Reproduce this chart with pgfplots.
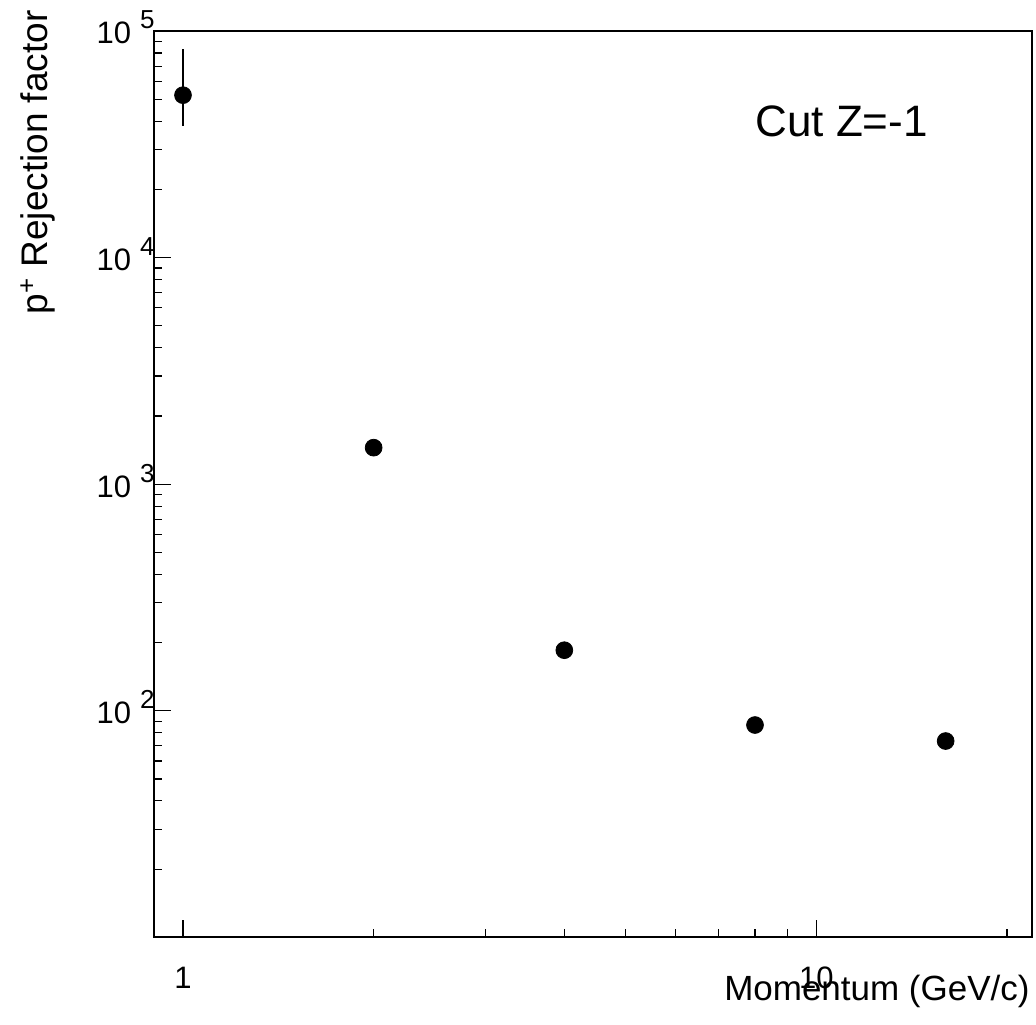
\documentclass[border=0pt]{standalone}
\usepackage{fontspec}
\setmainfont{Liberation Sans}
\usepackage{pgfplots}
\pgfplotsset{compat=1.18}

% power-of-ten label with a detached, raised exponent
\newcommand{\dec}[1]{\fontsize{15.5}{15.5}\selectfont 10\hspace{4.5pt}\raisebox{7.5pt}{\fontsize{13}{13}\selectfont #1}}

\begin{document}
\begin{tikzpicture}
\begin{axis}[
  xmode=log, ymode=log,
  scale only axis, width=439pt, height=453.15pt,
  xmin=0.9, xmax=21.9, ymin=10, ymax=100000,
  axis line style={line width=1pt},
  tick style={line width=0.6pt, black},
  tick align=inside,
  xtick pos=bottom, ytick pos=left,
  major tick length=8.5pt, minor tick length=4.25pt,
  xtick={1,10}, xticklabels={1,10},
  minor xtick={2,3,4,5,6,7,8,9,20},
  ytick={100,1000,10000,100000},
  yticklabels={\dec{2},\dec{3},\dec{4},\dec{5}},
  minor ytick={20,30,40,50,60,70,80,90,200,300,400,500,600,700,800,900,2000,3000,4000,5000,6000,7000,8000,9000,20000,30000,40000,50000,60000,70000,80000,90000},
  tick label style={font=\fontsize{15.5}{15.5}\selectfont, inner sep=0pt},
  xticklabel style={anchor=base, yshift=-25.5pt},
  yticklabel style={anchor=base east, yshift=-6.5pt, xshift=0.5pt},
  clip=false,
]
% uncertainty on the lowest-momentum point
\addplot[draw=none, mark=none,
  error bars/.cd, y dir=both, y explicit, error mark=none,
  error bar style={line width=1pt, black}]
  coordinates {(1,52100) += (0,31100) -= (0,14100)};
% measured rejection factors
\addplot[only marks, mark=*, mark size=4.2pt, black, mark options={fill=black}]
  coordinates {
    (1,52100)
    (2,1449)
    (4,185)
    (8,86.5)
    (16,73.5)
  };
\node[anchor=base west, inner sep=0pt, font=\fontsize{22}{22}\selectfont]
  at ([shift={(300.5pt,-53pt)}]rel axis cs:0,1) {Cut Z=-1};
\node[anchor=base east, inner sep=0pt, font=\fontsize{17.5}{17.5}\selectfont]
  at ([shift={(-1pt,-31.7pt)}]rel axis cs:1,0) {Momentum (GeV/c)};
\node[anchor=base east, rotate=90, inner sep=0pt, font=\fontsize{18.5}{18.5}\selectfont]
  at ([shift={(-53pt,10.5pt)}]rel axis cs:0,1) {p\textsuperscript{+} Rejection factor};
\coordinate (O) at (rel axis cs:0,0);
\end{axis}
\pgfresetboundingbox
\path[use as bounding box] ([shift={(-77pt,-43.35pt)}]O) rectangle ([shift={(441pt,468.65pt)}]O);
\end{tikzpicture}
\end{document}
